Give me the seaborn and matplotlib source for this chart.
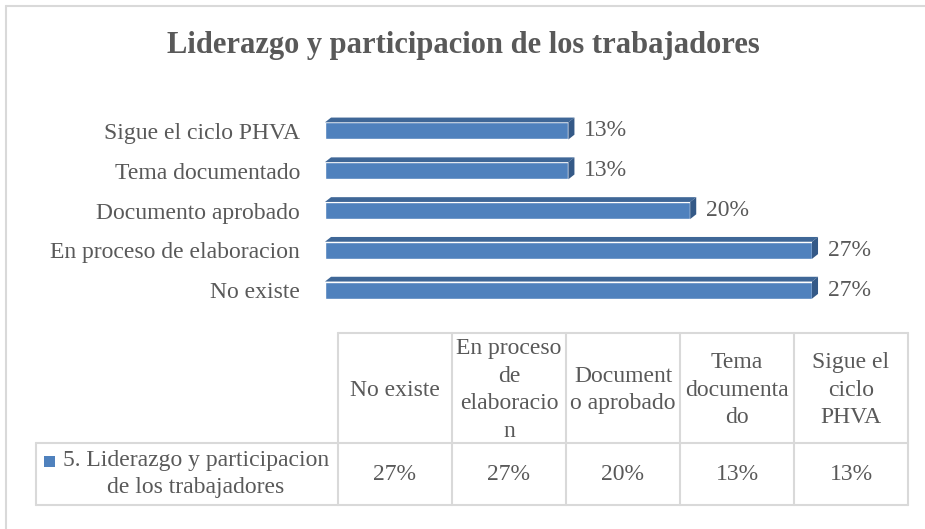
import numpy as np
import matplotlib
matplotlib.use("Agg")
import matplotlib.pyplot as plt
from matplotlib.patches import Polygon, Rectangle
import seaborn as sns

# data (table order)
categories = ["No existe", "En proceso de elaboracion", "Documento aprobado",
              "Tema documentado", "Sigue el ciclo PHVA"]
values = [26.67, 26.67, 20.0, 13.33, 13.33]
header_labels = ["No existe", "En proceso\nde\nelaboracio\nn", "Document\no aprobado",
                 "Tema\ndocumenta\ndo", "Sigue el\nciclo\nPHVA"]
series_name = "5. Liderazgo y participacion\nde los trabajadores"
title = "Liderazgo y participacion de los trabajadores"

BLUE = "#4F81BD"
TOP = "#3F6797"
SIDE = "#345987"
TXT = "#595959"
GRID = "#D9D9D9"
W, H = 925, 529

sns.set_style("white")
plt.rcParams["font.family"] = ["Liberation Serif", "DejaVu Serif"]

fig = plt.figure(figsize=(W / 100, H / 100), dpi=100)

# overlay axes in pixel units for frame, title and table
tax = fig.add_axes([0, 0, 1, 1])
tax.set_xlim(0, W)
tax.set_ylim(H, 0)
tax.axis("off")
tax.plot([6, W], [6, 6], color=GRID, lw=1.5)
tax.plot([6, 6], [6, H], color=GRID, lw=1.5)
tax.text(463, 46, title, ha="center", va="center", fontsize=22,
         fontweight="bold", color=TXT)

# bar chart
ax = fig.add_axes([325 / W, 1 - 310 / H, (812 - 325) / W, 199 / H])
order = categories[::-1]
sns.barplot(x=values, y=categories, order=order, orient="h", color=BLUE,
            saturation=1, width=0.43, ax=ax)
ax.set_xlim(0, max(values))
ax.set_ylim(len(categories) - 0.5, -0.5)
for s in ax.spines.values():
    s.set_visible(False)
ax.set_xticks([])
ax.set_xlabel("")
ax.set_ylabel("")
ax.tick_params(axis="y", length=0, pad=18, labelsize=17, labelcolor=TXT)
ax.patch.set_alpha(0)

# fake 3D faces
dx = 0.33
dy = 0.12
for p in list(ax.patches):
    x0, y0 = p.get_x(), p.get_y()
    x1, y1 = x0 + p.get_width(), y0 + p.get_height()
    ax.add_patch(Polygon([(x0, y0), (x0 + dx, y0 - dy), (x1 + dx, y0 - dy), (x1, y0)],
                         closed=True, facecolor=TOP, edgecolor="none", clip_on=False))
    ax.add_patch(Polygon([(x1, y0), (x1 + dx, y0 - dy), (x1 + dx, y1 - dy), (x1, y1)],
                         closed=True, facecolor=SIDE, edgecolor="none", clip_on=False))
    ax.annotate(f"{p.get_width():.0f}%", (x1, y0 + p.get_height() / 2),
                xytext=(11.5, 0), textcoords="offset points", va="center",
                ha="left", fontsize=17, color=TXT, annotation_clip=False)

# data table
t_left, lab_w, col_w = 36, 302, 114
h_top, h_bot, t_bot = 333, 443, 505
c0 = t_left + lab_w
c_end = c0 + col_w * len(categories)
lw = 1.5
tax.plot([c0, c_end], [h_top, h_top], color=GRID, lw=lw)
tax.plot([t_left, c_end], [h_bot, h_bot], color=GRID, lw=lw)
tax.plot([t_left, c_end], [t_bot, t_bot], color=GRID, lw=lw)
tax.plot([t_left, t_left], [h_bot, t_bot], color=GRID, lw=lw)
for i in range(len(categories) + 1):
    xx = c0 + i * col_w
    tax.plot([xx, xx], [h_top, t_bot], color=GRID, lw=lw)
for i, (lab, v) in enumerate(zip(header_labels, values)):
    cx = c0 + (i + 0.5) * col_w
    tax.text(cx, (h_top + h_bot) / 2 + 2, lab, ha="center", va="center",
             fontsize=17, color=TXT, linespacing=1.4)
    tax.text(cx, (h_bot + t_bot) / 2, f"{v:.0f}%", ha="center", va="center",
             fontsize=17, color=TXT)
tax.add_patch(Rectangle((44, 456), 11, 11, facecolor=BLUE, edgecolor="none"))
tax.text(196, (h_bot + t_bot) / 2, series_name, ha="center", va="center",
         fontsize=17, color=TXT, linespacing=1.4)

fig.savefig("out.png", dpi=100, facecolor="white")
